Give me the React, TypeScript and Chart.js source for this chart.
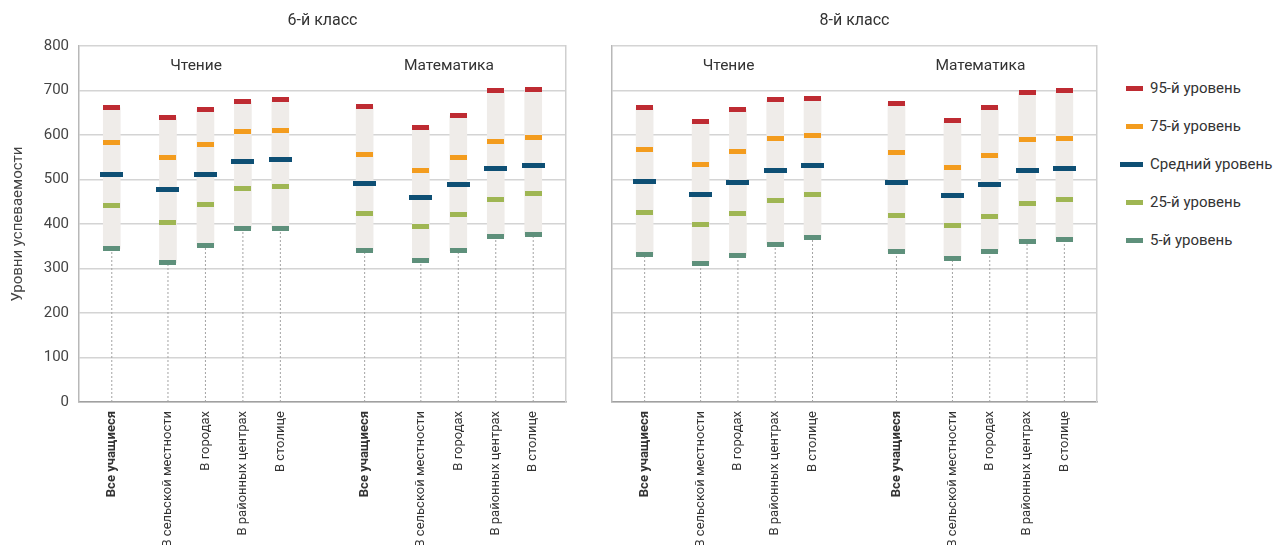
import React, { useEffect, useRef } from "react";
import { Chart, registerables } from "chart.js";

Chart.register(...registerables);

// ---------- text ----------
const categories = ["Все учащиеся", "В сельской местности", "В городах", "В районных центрах", "В столице"];
const subjects = ["Чтение", "Математика"];
const gradeTitles = ["6-й класс", "8-й класс"];
const levelNames = ["95-й уровень", "75-й уровень", "Средний уровень", "25-й уровень", "5-й уровень"];
const yAxisTitle = "Уровни успеваемости";
const yMin = 0;
const yMax = 800;
const yStep = 100;

// ---------- data: 6-й класс ----------
const g6ReadP5 = [345, 313, 351, 390, 390];
const g6ReadP25 = [441, 403, 443, 479, 484];
const g6ReadMean = [511, 477, 511, 540, 544];
const g6ReadP75 = [583, 549, 578, 607, 610];
const g6ReadP95 = [661, 639, 657, 675, 679];

const g6MathP5 = [340, 318, 340, 372, 376];
const g6MathP25 = [423, 394, 421, 455, 468];
const g6MathMean = [491, 459, 488, 524, 531];
const g6MathP75 = [556, 520, 549, 585, 594];
const g6MathP95 = [664, 616, 643, 699, 702];

// ---------- data: 8-й класс ----------
const g8ReadP5 = [331, 311, 329, 354, 369];
const g8ReadP25 = [426, 399, 423, 452, 466];
const g8ReadMean = [495, 466, 493, 520, 531];
const g8ReadP75 = [567, 533, 563, 592, 598];
const g8ReadP95 = [661, 630, 657, 679, 682];

const g8MathP5 = [338, 322, 338, 360, 365];
const g8MathP25 = [419, 396, 417, 446, 455];
const g8MathMean = [493, 464, 488, 520, 524];
const g8MathP75 = [560, 527, 554, 589, 592];
const g8MathP95 = [670, 632, 661, 695, 699];

// ---------- layout (category slots on the x axis) ----------
const SLOT_COUNT = 52;
const SUBJECT_SLOTS = [
  [3, 9, 13, 17, 21],
  [30, 36, 40, 44, 48],
];

// ---------- styles ----------
const FONT = "Roboto, 'Liberation Sans', Arial, sans-serif";
const LEVEL_COLORS = ["#BE2B32", "#F39C1E", "#0E4F74", "#9FB653", "#5E907B"];
const LEVEL_WIDTHS = [17, 17, 23, 17, 17];
const MARK_H = 5;
const RANGE_COLOR = "#EFECE9";
const STEM_COLOR = "#A3A3A3";
const GRID_COLOR = "#D4D4D4";
const TEXT_COLOR = "#333333";

type Panel = {
  title: string;
  levels: number[][][]; // [level][subject][category] : 95, 75, mean, 25, 5
  showY: boolean;
  left: number;
  width: number;
  padLeft: number;
  padRight: number;
  yWidth: number;
};

const panels: Panel[] = [
  {
    title: gradeTitles[0],
    levels: [
      [g6ReadP95, g6MathP95],
      [g6ReadP75, g6MathP75],
      [g6ReadMean, g6MathMean],
      [g6ReadP25, g6MathP25],
      [g6ReadP5, g6MathP5],
    ],
    showY: true,
    left: 0,
    width: 575,
    padLeft: 0,
    padRight: 9,
    yWidth: 79,
  },
  {
    title: gradeTitles[1],
    levels: [
      [g8ReadP95, g8MathP95],
      [g8ReadP75, g8MathP75],
      [g8ReadMean, g8MathMean],
      [g8ReadP25, g8MathP25],
      [g8ReadP5, g8MathP5],
    ],
    showY: false,
    left: 575,
    width: 530,
    padLeft: 37,
    padRight: 8,
    yWidth: 0,
  },
];

function slotLabels(): string[] {
  const arr: string[] = new Array(SLOT_COUNT).fill("");
  SUBJECT_SLOTS.forEach((slots) => slots.forEach((s, i) => (arr[s] = categories[i])));
  return arr;
}

function place(bySubject: any[][]): any[] {
  const arr: any[] = new Array(SLOT_COUNT).fill(null);
  SUBJECT_SLOTS.forEach((slots, si) => slots.forEach((s, i) => (arr[s] = bySubject[si][i])));
  return arr;
}

function markerImage(color: string, w: number, h: number): HTMLCanvasElement {
  const c = document.createElement("canvas");
  c.width = w;
  c.height = h;
  const g = c.getContext("2d")!;
  g.fillStyle = color;
  g.fillRect(0, 0, w, h);
  return c;
}

function dotPattern(ctx: CanvasRenderingContext2D): CanvasPattern | string {
  const c = document.createElement("canvas");
  c.width = 2;
  c.height = 4;
  const g = c.getContext("2d")!;
  g.fillStyle = STEM_COLOR;
  g.fillRect(0, 0, 2, 2);
  return ctx.createPattern(c, "repeat") || STEM_COLOR;
}

const groupLabelsPlugin = {
  id: "groupLabels",
  afterDatasetsDraw(chart: any) {
    const { ctx, scales } = chart;
    const x = scales.x;
    const y = scales.y;
    ctx.save();
    ctx.font = `15.5px ${FONT}`;
    ctx.fillStyle = TEXT_COLOR;
    ctx.textAlign = "center";
    ctx.textBaseline = "middle";
    SUBJECT_SLOTS.forEach((slots, si) => {
      const cx = (x.getPixelForValue(slots[0]) + x.getPixelForValue(slots[slots.length - 1])) / 2;
      ctx.fillText(subjects[si], cx, y.getPixelForValue(755));
    });
    ctx.restore();
  },
};

function PanelChart({ p }: { p: Panel }) {
  const ref = useRef<HTMLCanvasElement>(null);
  useEffect(() => {
    const canvas = ref.current!;
    const ctx = canvas.getContext("2d")!;
    const p95 = p.levels[0];
    const p5 = p.levels[4];
    const rangeData = place([
      p5[0].map((v, i) => [v, p95[0][i]]),
      p5[1].map((v, i) => [v, p95[1][i]]),
    ]);
    const stemData = place([p5[0].map((v) => [yMin, v]), p5[1].map((v) => [yMin, v])]);

    const markerSets = p.levels.map((lv, li) => ({
      type: "line" as const,
      label: levelNames[li],
      data: place(lv),
      showLine: false,
      pointStyle: markerImage(LEVEL_COLORS[li], LEVEL_WIDTHS[li], MARK_H),
      pointRadius: 3,
      pointHoverRadius: 3,
      order: li,
    }));

    const chart = new Chart(canvas, {
      type: "bar",
      data: {
        labels: slotLabels(),
        datasets: [
          ...markerSets,
          {
            type: "bar",
            label: "range",
            data: rangeData,
            backgroundColor: RANGE_COLOR,
            barThickness: 17,
            grouped: false,
            borderWidth: 0,
            order: 10,
          } as any,
          {
            type: "bar",
            label: "stem",
            data: stemData,
            backgroundColor: dotPattern(ctx),
            barThickness: 1,
            grouped: false,
            borderWidth: 0,
            inflateAmount: 0,
            order: 11,
          } as any,
        ],
      },
      options: {
        responsive: false,
        animation: false,
        events: [],
        layout: { padding: { left: p.padLeft, right: p.padRight, top: 0, bottom: 0 } },
        plugins: {
          legend: { display: false },
          tooltip: { enabled: false },
          title: {
            display: true,
            text: p.title,
            fullSize: false,
            color: TEXT_COLOR,
            font: { family: FONT, size: 16, weight: "normal" },
            padding: { top: 11.4, bottom: 15.4 },
          },
        },
        scales: {
          x: {
            type: "category",
            offset: true,
            grid: { display: false, drawTicks: false },
            border: { display: true, color: "#A0A0A0", width: 1.5 },
            ticks: {
              autoSkip: false,
              minRotation: 90,
              maxRotation: 90,
              padding: 9,
              color: TEXT_COLOR,
              font: (c: any) => ({
                family: FONT,
                size: 13,
                weight: c.tick && c.tick.label === categories[0] ? "bold" : "normal",
              }),
            },
            afterFit: (s: any) => {
              s.height = 143;
              s.paddingLeft = 0;
              s.paddingRight = 0;
            },
          },
          y: {
            min: yMin,
            max: yMax,
            grid: { color: GRID_COLOR, lineWidth: 1.5, drawTicks: false },
            border: { display: true, color: "#B8B8B8", width: 1.5 },
            ticks: {
              display: p.showY,
              stepSize: yStep,
              padding: 10,
              color: "#444444",
              font: { family: FONT, size: 15 },
            },
            title: {
              display: p.showY,
              text: yAxisTitle,
              color: "#444444",
              font: { family: FONT, size: 15 },
              padding: { top: 9, bottom: 0 },
            },
            afterFit: (s: any) => {
              s.width = p.yWidth;
            },
          },
          y2: {
            position: "right",
            grid: { display: false, drawTicks: false },
            border: { display: true, color: "#CFCFCF", width: 1.5 },
            ticks: { display: false },
            afterFit: (s: any) => {
              s.width = 0;
            },
          },
        },
      } as any,
      plugins: [groupLabelsPlugin],
    });
    return () => chart.destroy();
  }, [p]);

  return (
    <canvas
      ref={ref}
      width={p.width}
      height={545}
      style={{ position: "absolute", left: p.left, top: 0, width: p.width, height: 545 }}
    />
  );
}

function Legend() {
  return (
    <>
      {levelNames.map((name, i) => {
        const cy = 88 + 38 * i;
        return (
          <React.Fragment key={name}>
            <div
              style={{
                position: "absolute",
                left: 1143 - LEVEL_WIDTHS[i],
                top: cy - MARK_H / 2,
                width: LEVEL_WIDTHS[i],
                height: MARK_H,
                background: LEVEL_COLORS[i],
              }}
            />
            <div
              style={{
                position: "absolute",
                left: 1150,
                top: cy - 10,
                height: 20,
                lineHeight: "20px",
                fontFamily: FONT,
                fontSize: 15,
                color: TEXT_COLOR,
                whiteSpace: "nowrap",
              }}
            >
              {name}
            </div>
          </React.Fragment>
        );
      })}
    </>
  );
}

export default function App() {
  return (
    <div
      style={{
        position: "absolute",
        left: 0,
        top: 0,
        width: 1273,
        height: 545,
        overflow: "hidden",
        background: "#ffffff",
      }}
    >
      {panels.map((p) => (
        <PanelChart key={p.title} p={p} />
      ))}
      <Legend />
    </div>
  );
}
